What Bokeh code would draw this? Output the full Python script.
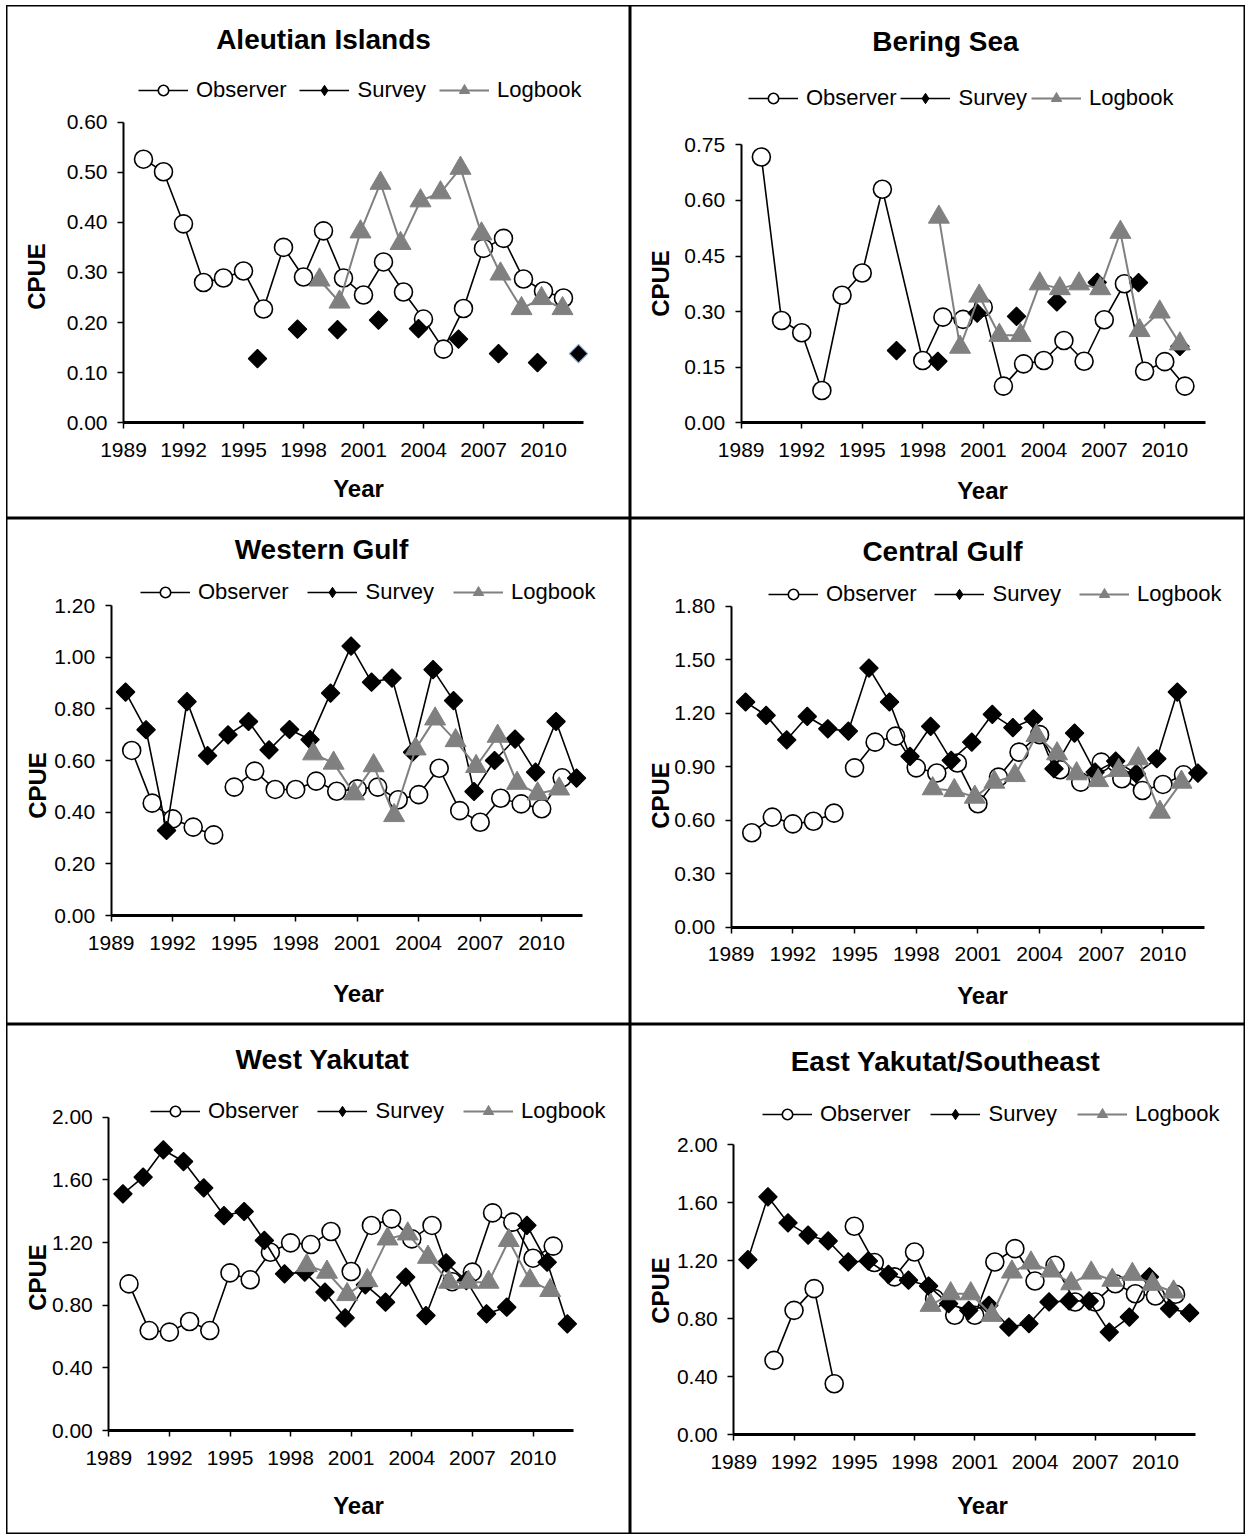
import math
from bokeh.plotting import figure
from bokeh.models import (Range1d, FixedTicker, PrintfTickFormatter, Label,
                          Legend, LegendItem, Spacer)
from bokeh.layouts import column, row
from bokeh.embed import file_html
from bokeh.resources import INLINE

# ---------------- data ----------------
x_ticks = [1989, 1992, 1995, 1998, 2001, 2004, 2007, 2010]
series_names = ["Observer", "Survey", "Logbook"]
titles = ["Aleutian Islands", "Bering Sea", "Western Gulf", "Central Gulf",
          "West Yakutat", "East Yakutat/Southeast"]

# Aleutian Islands
ai_obs_year = list(range(1990, 2012))
ai_obs = [0.526, 0.501, 0.397, 0.280, 0.289, 0.303, 0.227, 0.350, 0.291, 0.383, 0.289,
          0.255, 0.321, 0.261, 0.207, 0.147, 0.228, 0.348, 0.368, 0.287, 0.263, 0.249]
ai_srv_year = [1995.7, 1997.7, 1999.7, 2001.75, 2003.75, 2005.75, 2007.75, 2009.7, 2011.75]
ai_srv = [0.128, 0.187, 0.186, 0.205, 0.188, 0.167, 0.138, 0.120, 0.138]
ai_log_year = [1998.8, 1999.8, 2000.85, 2001.85, 2002.85, 2003.85, 2004.85, 2005.85,
               2006.9, 2007.85, 2008.9, 2009.9, 2010.95]
ai_log = [0.285, 0.241, 0.381, 0.478, 0.358, 0.443, 0.459, 0.508, 0.377, 0.297, 0.228,
          0.248, 0.228]

# Bering Sea
bs_obs_year = [1990, 1991, 1992, 1993, 1994, 1995, 1996, 1998, 1999, 2000, 2001, 2002,
               2003, 2004, 2005, 2006, 2007, 2008, 2009, 2010, 2011]
bs_obs = [0.717, 0.276, 0.243, 0.087, 0.344, 0.404, 0.630, 0.168, 0.285, 0.279, 0.312,
          0.099, 0.159, 0.168, 0.222, 0.166, 0.278, 0.375, 0.139, 0.165, 0.099]
bs_srv_year = [1996.7, 1998.75, 2000.7, 2002.65, 2004.65, 2006.65, 2008.7, 2010.75]
bs_srv = [0.195, 0.166, 0.296, 0.287, 0.326, 0.379, 0.378, 0.206]
bs_log_year = [1998.8, 1999.85, 2000.8, 2001.8, 2002.85, 2003.8, 2004.8, 2005.75,
               2006.8, 2007.8, 2008.75, 2009.75, 2010.75]
bs_log = [0.555, 0.204, 0.342, 0.236, 0.236, 0.375, 0.362, 0.375, 0.362, 0.514, 0.249,
          0.299, 0.213]

# Western Gulf
wg_obs_year = list(range(1990, 2012))
wg_obs = [0.639, 0.435, 0.374, 0.342, 0.312, 0.497, 0.559, 0.488, 0.488, 0.520, 0.481,
          0.490, 0.497, 0.448, 0.468, 0.570, 0.406, 0.361, 0.454, 0.432, 0.413, 0.533]
wg_srv_year = [1989.7 + i for i in range(23)]
wg_srv = [0.865, 0.719, 0.329, 0.828, 0.619, 0.699, 0.751, 0.641, 0.720, 0.681, 0.861,
          1.043, 0.903, 0.919, 0.632, 0.952, 0.832, 0.480, 0.600, 0.683, 0.555, 0.751, 0.532]
wg_log_year = [1998.85, 1999.85, 2000.85, 2001.8, 2002.8, 2003.85, 2004.8, 2005.8,
               2006.8, 2007.85, 2008.8, 2009.8, 2010.85]
wg_log = [0.626, 0.590, 0.471, 0.580, 0.387, 0.645, 0.761, 0.677, 0.577, 0.694, 0.512,
          0.471, 0.490]

# Central Gulf
cg_obs_year = list(range(1990, 2012))
cg_obs = [0.529, 0.617, 0.579, 0.594, 0.639, 0.893, 1.037, 1.071, 0.893, 0.864, 0.920,
          0.692, 0.841, 0.981, 1.079, 0.882, 0.813, 0.925, 0.832, 0.766, 0.800, 0.854]
cg_srv_year = [1989.7 + i for i in range(23)]
cg_srv = [1.262, 1.187, 1.050, 1.181, 1.112, 1.099, 1.452, 1.262, 0.957, 1.125, 0.935,
          1.037, 1.193, 1.118, 1.168, 0.888, 1.088, 0.869, 0.931, 0.860, 0.944, 1.318, 0.864]
cg_log_year = [1998.8, 1999.85, 2000.85, 2001.8, 2002.8, 2003.85, 2004.85, 2005.8,
               2006.85, 2007.85, 2008.8, 2009.85, 2010.9]
cg_log = [0.776, 0.766, 0.729, 0.813, 0.850, 1.075, 0.972, 0.860, 0.822, 0.879, 0.944,
          0.645, 0.813]

# West Yakutat
wy_obs_year = list(range(1990, 2012))
wy_obs = [0.936, 0.638, 0.628, 0.696, 0.638, 1.006, 0.962, 1.138, 1.198, 1.187, 1.270,
          1.015, 1.309, 1.351, 1.223, 1.309, 0.950, 1.011, 1.389, 1.330, 1.100, 1.177]
wy_srv_year = [1989.7 + i for i in range(23)]
wy_srv = [1.511, 1.617, 1.791, 1.717, 1.549, 1.372, 1.398, 1.213, 1.000, 1.011, 0.883,
          0.719, 0.930, 0.819, 0.979, 0.734, 1.070, 0.957, 0.745, 0.787, 1.309, 1.074, 0.681]
wy_log_year = [1998.8, 1999.8, 2000.8, 2001.8, 2002.8, 2003.8, 2004.8, 2005.85,
               2006.8, 2007.8, 2008.8, 2009.85, 2010.85]
wy_log = [1.053, 1.011, 0.868, 0.957, 1.223, 1.255, 1.106, 0.947, 0.947, 0.947, 1.213,
          0.957, 0.894]

# East Yakutat/Southeast
ey_obs_year = list(range(1991, 2012))
ey_obs = [0.512, 0.857, 1.007, 0.350, 1.438, 1.187, 1.088, 1.260, 0.938, 0.823, 0.823,
          1.191, 1.283, 1.060, 1.168, 0.915, 0.915, 1.041, 0.972, 0.956, 0.968]
ey_srv_year = [1989.7 + i for i in range(23)]
ey_srv = [1.207, 1.641, 1.461, 1.376, 1.336, 1.191, 1.198, 1.106, 1.065, 1.025, 0.903,
          0.857, 0.892, 0.742, 0.765, 0.915, 0.922, 0.922, 0.707, 0.811, 1.088, 0.869, 0.839]
ey_log_year = [1998.8, 1999.8, 2000.8, 2001.85, 2002.85, 2003.8, 2004.8, 2005.8,
               2006.8, 2007.85, 2008.85, 2009.85, 2010.9]
ey_log = [0.892, 0.972, 0.972, 0.823, 1.122, 1.184, 1.129, 1.041, 1.115, 1.065, 1.106,
          1.037, 0.984]

y_max = [0.60, 0.75, 1.20, 1.80, 2.00, 2.00]
y_step = [0.10, 0.15, 0.20, 0.30, 0.40, 0.40]
obs_break_after = [None, None, 1994, 1994, None, 1994]   # observer line not joined after this year
survey_joined = [False, False, True, True, True, True]

panel_data = [
    (ai_obs_year, ai_obs, ai_srv_year, ai_srv, ai_log_year, ai_log),
    (bs_obs_year, bs_obs, bs_srv_year, bs_srv, bs_log_year, bs_log),
    (wg_obs_year, wg_obs, wg_srv_year, wg_srv, wg_log_year, wg_log),
    (cg_obs_year, cg_obs, cg_srv_year, cg_srv, cg_log_year, cg_log),
    (wy_obs_year, wy_obs, wy_srv_year, wy_srv, wy_log_year, wy_log),
    (ey_obs_year, ey_obs, ey_srv_year, ey_srv, ey_log_year, ey_log),
]

# ---------------- layout (absolute page pixels) ----------------
PAD_X, PAD_Y = 6, 5
col_w = [624, 615]
row_h = [513, 506, 510]
# frame geometry: x of 1989, px per year, y of top tick, y of zero
frame_geo = [(123.0, 20.0, 121.6, 422.3), (740.7, 20.17, 144.3, 422.3),
             (110.7, 20.5, 605.0, 915.0), (730.7, 20.56, 605.5, 926.7),
             (108.3, 20.2, 1116.7, 1430.0), (733.3, 20.08, 1144.3, 1434.0)]
title_pos = [(323, 39), (945, 41), (321, 549), (942, 551), (322, 1059), (945, 1061)]
# legend: left of first line, vertical centre, spacing between items
legend_pos = [(138, 90, 13), (748, 98, 4), (140, 592, 19), (768, 594, 18),
              (150, 1111, 19), (762, 1114, 20)]
cpue_pos = [(36, 276), (660, 283), (37, 785), (660, 795), (37, 1277), (660, 1290)]
year_pos = [(358, 488), (982, 490), (358, 993), (982, 995), (358, 1505), (982, 1505)]

FONT = "Liberation Sans"
GRAY = "#808080"
NAN = float("nan")


def make_panel(i):
    r, c = divmod(i, 2)
    ox = PAD_X + sum(col_w[:c])
    oy = PAD_Y + sum(row_h[:r])
    w, h = col_w[c], row_h[r]
    fl, ppy, ft, fb = frame_geo[i]
    ppv = (fb - ft) / y_max[i]
    x0 = 1989 - (fl - ox) / ppy
    x1 = 1989 + (ox + w - fl) / ppy
    y0 = -(oy + h - fb) / ppv
    y1 = (fb - oy) / ppv
    p = figure(width=w, height=h, x_range=Range1d(x0, x1), y_range=Range1d(y0, y1),
               output_backend="svg", toolbar_location=None, title=None,
               min_border=0, min_border_left=0, min_border_right=0,
               min_border_top=0, min_border_bottom=0,
               background_fill_color="white", border_fill_color="white")
    p.outline_line_color = "black"
    p.outline_line_width = 2
    p.xgrid.visible = False
    p.ygrid.visible = False

    # axes (drawn at fixed data locations)
    nt = int(round(y_max[i] / y_step[i]))
    p.yaxis.ticker = FixedTicker(ticks=[round(k * y_step[i], 4) for k in range(nt + 1)])
    p.yaxis.formatter = PrintfTickFormatter(format="%.2f")
    p.yaxis.bounds = (0, y_max[i])
    p.yaxis.fixed_location = 1989
    p.xaxis.ticker = FixedTicker(ticks=x_ticks)
    p.xaxis.bounds = (1989, 2012)
    p.xaxis.fixed_location = 0
    for ax in (p.xaxis[0], p.yaxis[0]):
        ax.axis_line_color = "black"
        ax.major_tick_line_color = "black"
        ax.major_tick_out = 6
        ax.major_tick_in = 0
        ax.minor_tick_line_color = None
        ax.major_label_text_font = FONT
        ax.major_label_text_font_size = "21px"
        ax.major_label_text_color = "black"
    p.xaxis.axis_line_width = 3
    p.xaxis.major_tick_line_width = 1.5
    p.yaxis.axis_line_width = 2
    p.yaxis.major_tick_line_width = 1.5
    p.xaxis.major_label_standoff = 14
    p.yaxis.major_label_standoff = 10

    oyears, ovals, syears, svals, lyears, lvals = panel_data[i]

    # observer
    lx, ly = [], []
    for yr, v in zip(oyears, ovals):
        lx.append(yr)
        ly.append(v)
        if obs_break_after[i] is not None and yr == obs_break_after[i]:
            lx.append(NAN)
            ly.append(NAN)
    obs_line = p.line(lx, ly, line_color="black", line_width=1.6)
    obs_sc = p.scatter(oyears, ovals, marker="circle", size=18, fill_color="white",
                       line_color="black", line_width=1.6)

    # survey
    if survey_joined[i]:
        srv_line = p.line(syears, svals, line_color="black", line_width=1.6)
    else:
        srv_line = p.line([NAN], [NAN], line_color="black", line_width=1.6)
    s_edge = ["black"] * len(svals)
    if i == 0:
        s_edge[-1] = "#8FA8CF"
    p.scatter(syears, svals, marker="square", angle=math.pi / 4, size=13,
              fill_color="black", line_color=s_edge, line_width=1.2)
    # legend-only diamond glyph (legend ignores marker rotation)
    srv_key = p.scatter([NAN], [NAN], marker="diamond", size=13, fill_color="black",
                        line_color="black")

    # logbook
    log_line = p.line(lyears, lvals, line_color=GRAY, line_width=2)
    log_sc = p.scatter(lyears, lvals, marker="triangle", size=21, fill_color=GRAY,
                       line_color=GRAY, line_width=1)

    # legend
    lgx, lgy, sp = legend_pos[i]
    H = 26
    legend = Legend(items=[
        LegendItem(label=series_names[0], renderers=[obs_line, obs_sc]),
        LegendItem(label=series_names[1], renderers=[srv_line, srv_key]),
        LegendItem(label=series_names[2], renderers=[log_line, log_sc]),
    ], orientation="horizontal", location=(lgx - ox, oy + h - lgy - H / 2),
        glyph_width=50, glyph_height=26, label_standoff=8, spacing=sp,
        padding=0, margin=0, border_line_color=None, background_fill_alpha=0,
        label_text_font=FONT, label_text_font_size="22px", label_text_color="black")
    p.add_layout(legend)

    def lab(text, pos, size, angle=0.0):
        ax_, ay_ = pos
        p.add_layout(Label(x=ax_ - ox, y=oy + h - ay_, x_units="screen", y_units="screen",
                           text=text, angle=angle, text_align="center",
                           text_baseline="middle", text_font=FONT,
                           text_font_style="bold", text_font_size=size,
                           text_color="black"))

    lab(titles[i], title_pos[i], "28px")
    lab("CPUE", cpue_pos[i], "24px", math.pi / 2)
    lab("Year", year_pos[i], "24px")
    return p


panels = [make_panel(i) for i in range(6)]
grid = column(row(panels[0], panels[1]), row(panels[2], panels[3]),
              row(panels[4], panels[5]))
layout = column(Spacer(width=10, height=PAD_Y), row(Spacer(width=PAD_X, height=10), grid))

open("out.html", "w").write(file_html(layout, INLINE))
